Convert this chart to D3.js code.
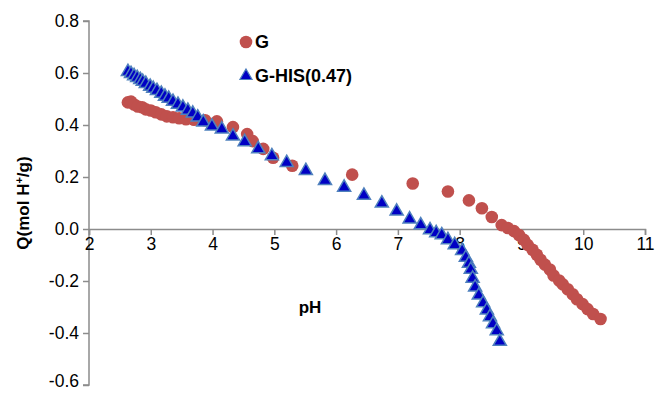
<!DOCTYPE html>
<html>
<head>
<meta charset="utf-8">
<script src="https://cdn.jsdelivr.net/npm/d3@7/dist/d3.min.js"></script>
<style>
  html, body { margin: 0; padding: 0; background: #fff; }
  svg { display: block; font-family: "Liberation Sans", Arial, Helvetica, sans-serif; }
</style>
</head>
<body>
<svg id="chart" width="655" height="394"></svg>
<script>
// Surface charge Q versus pH for the two samples
const seriesNames = ["G", "G-HIS(0.47)"];

const gPH = [2.63, 2.68, 2.73, 2.79, 2.86, 2.92, 3.00, 3.08, 3.17, 3.26, 3.36, 3.46, 3.57, 3.70, 3.88,
  4.07, 4.33, 4.56, 4.65, 4.82, 4.98, 5.29, 6.26, 7.24, 7.81, 8.15, 8.36, 8.52, 8.68, 8.78,
  8.88, 8.96, 9.04, 9.10, 9.18, 9.25, 9.31, 9.38, 9.46, 9.52, 9.61, 9.67, 9.75, 9.83, 9.90,
  9.99, 10.07, 10.16, 10.28];
const gQ = [0.487, 0.490, 0.479, 0.471, 0.468, 0.460, 0.456, 0.449, 0.441, 0.433, 0.430, 0.426, 0.422, 0.420, 0.418,
  0.414, 0.392, 0.365, 0.338, 0.308, 0.274, 0.243, 0.209, 0.175, 0.144, 0.110, 0.080, 0.046, 0.015, 0.004,
  -0.008, -0.023, -0.042, -0.061, -0.080, -0.099, -0.118, -0.137, -0.156, -0.179, -0.198, -0.213, -0.232, -0.251, -0.270,
  -0.289, -0.308, -0.327, -0.346];

const hisPH = [2.63, 2.68, 2.73, 2.78, 2.83, 2.87, 2.92, 2.99, 3.04, 3.10, 3.17, 3.23, 3.29, 3.36, 3.44,
  3.52, 3.60, 3.68, 3.76, 3.85, 3.99, 4.15, 4.33, 4.52, 4.74, 4.96, 5.20, 5.51, 5.82, 6.13,
  6.45, 6.74, 6.98, 7.19, 7.37, 7.52, 7.62, 7.71, 7.81, 7.92, 8.04, 8.10, 8.15, 8.18, 8.21,
  8.25, 8.31, 8.38, 8.44, 8.49, 8.54, 8.60, 8.65];
const hisQ = [0.605, 0.597, 0.589, 0.582, 0.574, 0.567, 0.559, 0.548, 0.540, 0.532, 0.521, 0.510, 0.502, 0.490, 0.479,
  0.468, 0.456, 0.445, 0.430, 0.411, 0.395, 0.384, 0.357, 0.335, 0.308, 0.281, 0.255, 0.224, 0.186, 0.160,
  0.129, 0.099, 0.068, 0.038, 0.015, -0.004, -0.015, -0.023, -0.042, -0.061, -0.084, -0.110, -0.133, -0.156, -0.190,
  -0.224, -0.255, -0.285, -0.312, -0.338, -0.365, -0.392, -0.433];

const xTicks = [2, 3, 4, 5, 6, 7, 8, 9, 10, 11];
const yTicks = [0.8, 0.6, 0.4, 0.2, 0.0, -0.2, -0.4, -0.6];

const svg = d3.select("#chart");
const plot = { left: 89, right: 645, top: 21, bottom: 385 };

const x = d3.scaleLinear().domain([2, 11]).range([plot.left, plot.right]);
const y = d3.scaleLinear().domain([-0.6, 0.8]).range([plot.bottom, plot.top]);

const axisColor = "#8c8c8c";
const fmtY = d => d3.format(".1f")(d).replace("\u2212", "-");

// y axis on the left edge
const yAxis = svg.append("g")
  .attr("transform", `translate(${plot.left},0)`)
  .call(d3.axisLeft(y).tickValues(yTicks).tickSize(6).tickPadding(4).tickFormat(fmtY));

// x axis runs through Q = 0
const xAxis = svg.append("g")
  .attr("transform", `translate(0,${y(0)})`)
  .call(d3.axisBottom(x).tickValues(xTicks).tickSize(6).tickPadding(3).tickFormat(d3.format("d")));

[yAxis, xAxis].forEach(g => {
  g.select(".domain").attr("stroke", axisColor).attr("stroke-width", 1.5);
  g.selectAll(".tick line").attr("stroke", axisColor).attr("stroke-width", 1.5);
  g.selectAll(".tick text").attr("fill", "#000").style("font-size", "17.5px")
    .style("font-family", "'Liberation Sans', Arial, sans-serif");
});
yAxis.select(".domain").attr("d", `M-6,${plot.top}H0V${plot.bottom}H-6`);
// keep the lowest label inside the frame
yAxis.selectAll(".tick text").filter(d => d === -0.6).attr("dy", "0.1em");

// G: red circles
const gData = gPH.map((p, i) => ({ p, q: gQ[i] }));
svg.append("g").selectAll("circle").data(gData).join("circle")
  .attr("cx", d => x(d.p)).attr("cy", d => y(d.q)).attr("r", 6.3)
  .attr("fill", "#c0504d");

// G-HIS: blue triangles drawn on top
const tri = d3.symbol().type(d3.symbolTriangle).size(74);
const hisData = hisPH.map((p, i) => ({ p, q: hisQ[i] }));
svg.append("g").selectAll("path").data(hisData).join("path")
  .attr("d", tri)
  .attr("transform", d => `translate(${x(d.p)},${y(d.q)})`)
  .attr("fill", "#0000c4").attr("stroke", "#4f81bd").attr("stroke-width", 1.5);

// axis titles
svg.append("text").attr("x", 310).attr("y", 313).attr("text-anchor", "middle")
  .style("font-size", "17px").style("font-weight", "bold").text("pH");

const yTitle = svg.append("text")
  .attr("transform", `translate(29,${(plot.top + plot.bottom) / 2}) rotate(-90)`)
  .attr("text-anchor", "middle")
  .style("font-size", "17px").style("font-weight", "bold");
yTitle.append("tspan").text("Q(mol H");
yTitle.append("tspan").attr("dy", -6).style("font-size", "11px").text("+");
yTitle.append("tspan").attr("dy", 6).text("/g)");

// legend
const legend = svg.append("g");
legend.append("circle").attr("cx", 246).attr("cy", 42).attr("r", 6.3).attr("fill", "#c0504d");
legend.append("text").attr("x", 255).attr("y", 48).style("font-size", "18px").style("font-weight", "bold").text(seriesNames[0]);
legend.append("path").attr("d", d3.symbol().type(d3.symbolTriangle).size(64))
  .attr("transform", "translate(246,76)")
  .attr("fill", "#0000c4").attr("stroke", "#4f81bd").attr("stroke-width", 1.2);
legend.append("text").attr("x", 255).attr("y", 82).style("font-size", "18px").style("font-weight", "bold").text(seriesNames[1]);
</script>
</body>
</html>
